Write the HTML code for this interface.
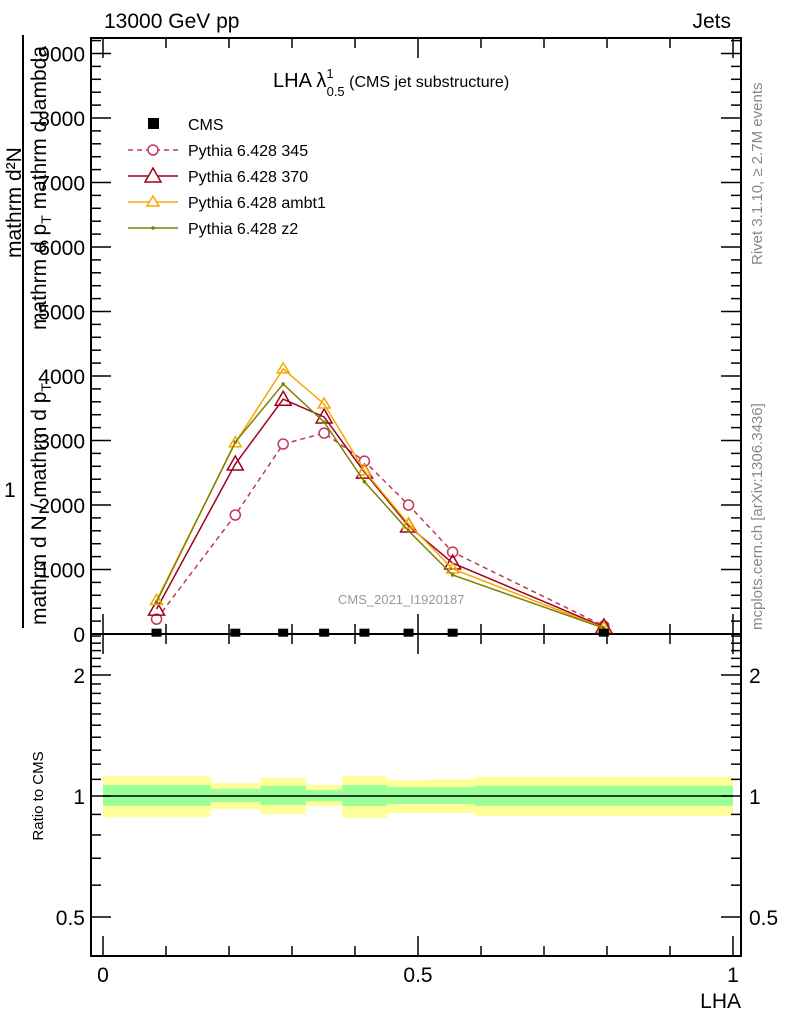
<!DOCTYPE html>
<html><head><meta charset="utf-8"><style>
body{margin:0;background:#fff;}
svg{display:block;font-family:"Liberation Sans",sans-serif;}
</style></head><body>
<svg id="c" width="786" height="1024" viewBox="0 0 786 1024" xmlns="http://www.w3.org/2000/svg">
<text x="104" y="28" font-size="21">13000 GeV pp</text>
<text x="731" y="28" font-size="21" text-anchor="end">Jets</text>
<text x="273" y="87" font-size="20">LHA λ<tspan font-size="13" dy="-9">1</tspan><tspan font-size="13" dx="-7" dy="18">0.5</tspan><tspan font-size="16" dy="-9"> (CMS jet substructure)</tspan></text>
<text x="338" y="604" font-size="13" fill="#999">CMS_2021_I1920187</text>
<text transform="translate(762,265) rotate(-90)" font-size="15" fill="#888">Rivet 3.1.10, ≥ 2.7M events</text>
<text transform="translate(762,630) rotate(-90)" font-size="15" fill="#888">mcplots.cern.ch [arXiv:1306.3436]</text>
<g font-size="21">
<text transform="translate(21,258) rotate(-90)">mathrm d²N</text>
<line x1="23" y1="35" x2="23" y2="628" stroke="#000" stroke-width="2"/>
<text x="4" y="497">1</text>
<text transform="translate(46,625) rotate(-90)">mathrm d N / mathrm d p<tspan font-size="14" dy="5">T</tspan></text>
<text transform="translate(46,330) rotate(-90)">mathrm d p<tspan font-size="14" dy="5">T</tspan><tspan dy="-5"> mathrm d lambda</tspan></text>
</g>
<text font-size="15" transform="rotate(-90,38,796)" text-anchor="middle"><tspan x="38" y="801">Ratio to CMS</tspan></text>
<text x="741" y="1008" font-size="21" text-anchor="end">LHA</text>
<g id="plot"></g>
</svg>
<script>
const xCenters=[0.085,0.21,0.286,0.351,0.415,0.485,0.555,0.795];
const binEdges=[0,0.171,0.25,0.322,0.38,0.451,0.52,0.59,1];
const cmsValues=[5,5,5,5,5,5,5,5];
const p345=[230,1845,2945,3115,2680,2000,1270,125];
const p370=[385,2635,3640,3365,2510,1675,1100,110];
const pAmbt1=[520,2965,4110,3565,2530,1705,1010,95];
const pZ2=[495,2975,3875,3285,2360,1600,915,90];
const yTicks=[0,1000,2000,3000,4000,5000,6000,7000,8000,9000];
const yTickLabels=["0","1000","2000","3000","4000","5000","6000","7000","8000","9000"];
const bandYellowHi=[1.12,1.077,1.108,1.065,1.12,1.095,1.1,1.115];
const bandYellowLo=[0.886,0.928,0.902,0.944,0.883,0.907,0.907,0.893];
const bandGreenHi=[1.065,1.04,1.06,1.035,1.065,1.053,1.053,1.06];
const bandGreenLo=[0.946,0.966,0.95,0.97,0.944,0.955,0.955,0.946];
const ratioTicks=[0.5,1,2];
const ratioTickLabels=["0.5","1","2"];
const xTicks=[0,0.5,1];
const xTickLabels=["0","0.5","1"];

const L=91,R=741,T=38,MB=634,RB=956;
const X=v=>103+630*v;
const Y=v=>634-0.0645*v;
const RY=r=>796-121*Math.log2(r);
const g=document.getElementById('plot');
const NS="http://www.w3.org/2000/svg";
function mk(t,a,p){const e=document.createElementNS(NS,t);for(const k in a)e.setAttribute(k,a[k]);(p||g).appendChild(e);return e;}

for(let i=0;i<xCenters.length;i++){
 const y=mk('rect',{x:X(binEdges[i]),y:RY(bandYellowHi[i]),width:X(binEdges[i+1])-X(binEdges[i]),height:RY(bandYellowLo[i])-RY(bandYellowHi[i]),fill:'#ffff99'});
 
 
 const gr=mk('rect',{x:X(binEdges[i]),y:RY(bandGreenHi[i]),width:X(binEdges[i+1])-X(binEdges[i]),height:RY(bandGreenLo[i])-RY(bandGreenHi[i]),fill:'#99ff99'});
 
 
}
const one=mk('line',{x1:X(0),x2:X(1),y1:RY(1),y2:RY(1),stroke:'#000','stroke-width':1.5});



const f1=mk('rect',{x:L,y:T,width:R-L,height:MB-T,fill:'none',stroke:'#000','stroke-width':2});


const f2=mk('rect',{x:L,y:MB,width:R-L,height:RB-MB,fill:'none',stroke:'#000','stroke-width':2});



for(let v=0;v<=9200;v+=200){const y=Y(v);const maj=v%1000===0;const len=maj?20:10;
 mk('line',{x1:L,x2:L+len,y1:y,y2:y,stroke:'#000','stroke-width':1.5});
 mk('line',{x1:R,x2:R-len,y1:y,y2:y,stroke:'#000','stroke-width':1.5});}
yTicks.forEach((v,i)=>{const t=mk('text',{x:85,y:Y(v)+8,'font-size':21,'text-anchor':'end'});t.textContent=yTickLabels[i];
 
 });
for(let k=0;k<=10;k++){const v=k/10;const x=X(v);const maj=k%5===0;const len=maj?20:10;
 [[MB,-1],[T,1],[MB,1],[RB,-1]].forEach(([y0,d])=>mk('line',{x1:x,x2:x,y1:y0,y2:y0+d*len,stroke:'#000','stroke-width':1.5}));}
xTicks.forEach((v,i)=>{const t=mk('text',{x:X(v),y:982,'font-size':21,'text-anchor':'middle'});t.textContent=xTickLabels[i];
 
 });
const rMinor=[0.6,0.7,0.8,0.9,1.1,1.2,1.3,1.4,1.5,1.6,1.7,1.8,1.9,2.1,2.2,2.3,2.4,2.5];
rMinor.forEach(r=>{const y=RY(r);mk('line',{x1:L,x2:L+10,y1:y,y2:y,stroke:'#000','stroke-width':1.5});mk('line',{x1:R,x2:R-10,y1:y,y2:y,stroke:'#000','stroke-width':1.5});});
ratioTicks.forEach((r,i)=>{const y=RY(r);mk('line',{x1:L,x2:L+20,y1:y,y2:y,stroke:'#000','stroke-width':1.5});mk('line',{x1:R,x2:R-20,y1:y,y2:y,stroke:'#000','stroke-width':1.5});
 const t=mk('text',{x:85,y:y+8,'font-size':21,'text-anchor':'end'});t.textContent=ratioTickLabels[i];
 
 
 const t2=mk('text',{x:749,y:y+8,'font-size':21});t2.textContent=ratioTickLabels[i];
 
 });

function series(vals,color,dash,marker,name){
 const pts=vals.map((v,i)=>X(xCenters[i])+','+Y(v)).join(' ');
 const pl=mk('polyline',{points:pts,fill:'none',stroke:color,'stroke-width':1.5});
 if(dash)pl.setAttribute('stroke-dasharray','5,4');
 
 
 vals.forEach((v,i)=>{const x=X(xCenters[i]),y=Y(v);let m;
  if(marker==='circle')m=mk('circle',{cx:x,cy:y,r:5,fill:'#fff',stroke:color,'stroke-width':1.5});
  else if(marker==='tri')m=mk('polygon',{points:`${x},${y-8} ${x-8},${y+6} ${x+8},${y+6}`,fill:'none',stroke:color,'stroke-width':1.5});
  else if(marker==='tris')m=mk('polygon',{points:`${x},${y-6} ${x-6},${y+4} ${x+6},${y+4}`,fill:'none',stroke:color,'stroke-width':1.5});
  else m=mk('circle',{cx:x,cy:y,r:1.8,fill:color});
  
  });
}
series(p345,'#c0395a',true,'circle','pythia-345');
series(p370,'#a00020',false,'tri','pythia-370');
series(pAmbt1,'#f5a800',false,'tris','pythia-ambt1');
series(pZ2,'#808000',false,'dot','pythia-z2');
cmsValues.forEach((v,i)=>{const r=mk('rect',{x:X(xCenters[i])-5,y:Y(v)-5,width:10,height:8,fill:'#000'});
 
 });

const leg=[['CMS','#000','sq'],['Pythia 6.428 345','#c0395a','circle'],['Pythia 6.428 370','#a00020','tri'],['Pythia 6.428 ambt1','#f5a800','tris'],['Pythia 6.428 z2','#808000','dot']];
leg.forEach(([lab,c,m],i)=>{const y=124+26*i;const x=153;
 if(m!=='sq'){const ln=mk('line',{x1:128,x2:178,y1:y,y2:y,stroke:c,'stroke-width':1.5});if(i===1)ln.setAttribute('stroke-dasharray','5,4');}
 if(m==='sq')mk('rect',{x:x-5,y:y-6,width:11,height:11,fill:'#000'});
 else if(m==='circle')mk('circle',{cx:x,cy:y,r:5,fill:'#fff',stroke:c,'stroke-width':1.5});
 else if(m==='tri')mk('polygon',{points:`${x},${y-8} ${x-8},${y+6} ${x+8},${y+6}`,fill:'#fff',stroke:c,'stroke-width':1.5});
 else if(m==='tris')mk('polygon',{points:`${x},${y-6} ${x-6},${y+4} ${x+6},${y+4}`,fill:'#fff',stroke:c,'stroke-width':1.5});
 else mk('circle',{cx:x,cy:y,r:1.8,fill:c});
 const t=mk('text',{x:188,y:y+6,'font-size':16});t.textContent=lab;
 
 });
</script>
</body></html>
